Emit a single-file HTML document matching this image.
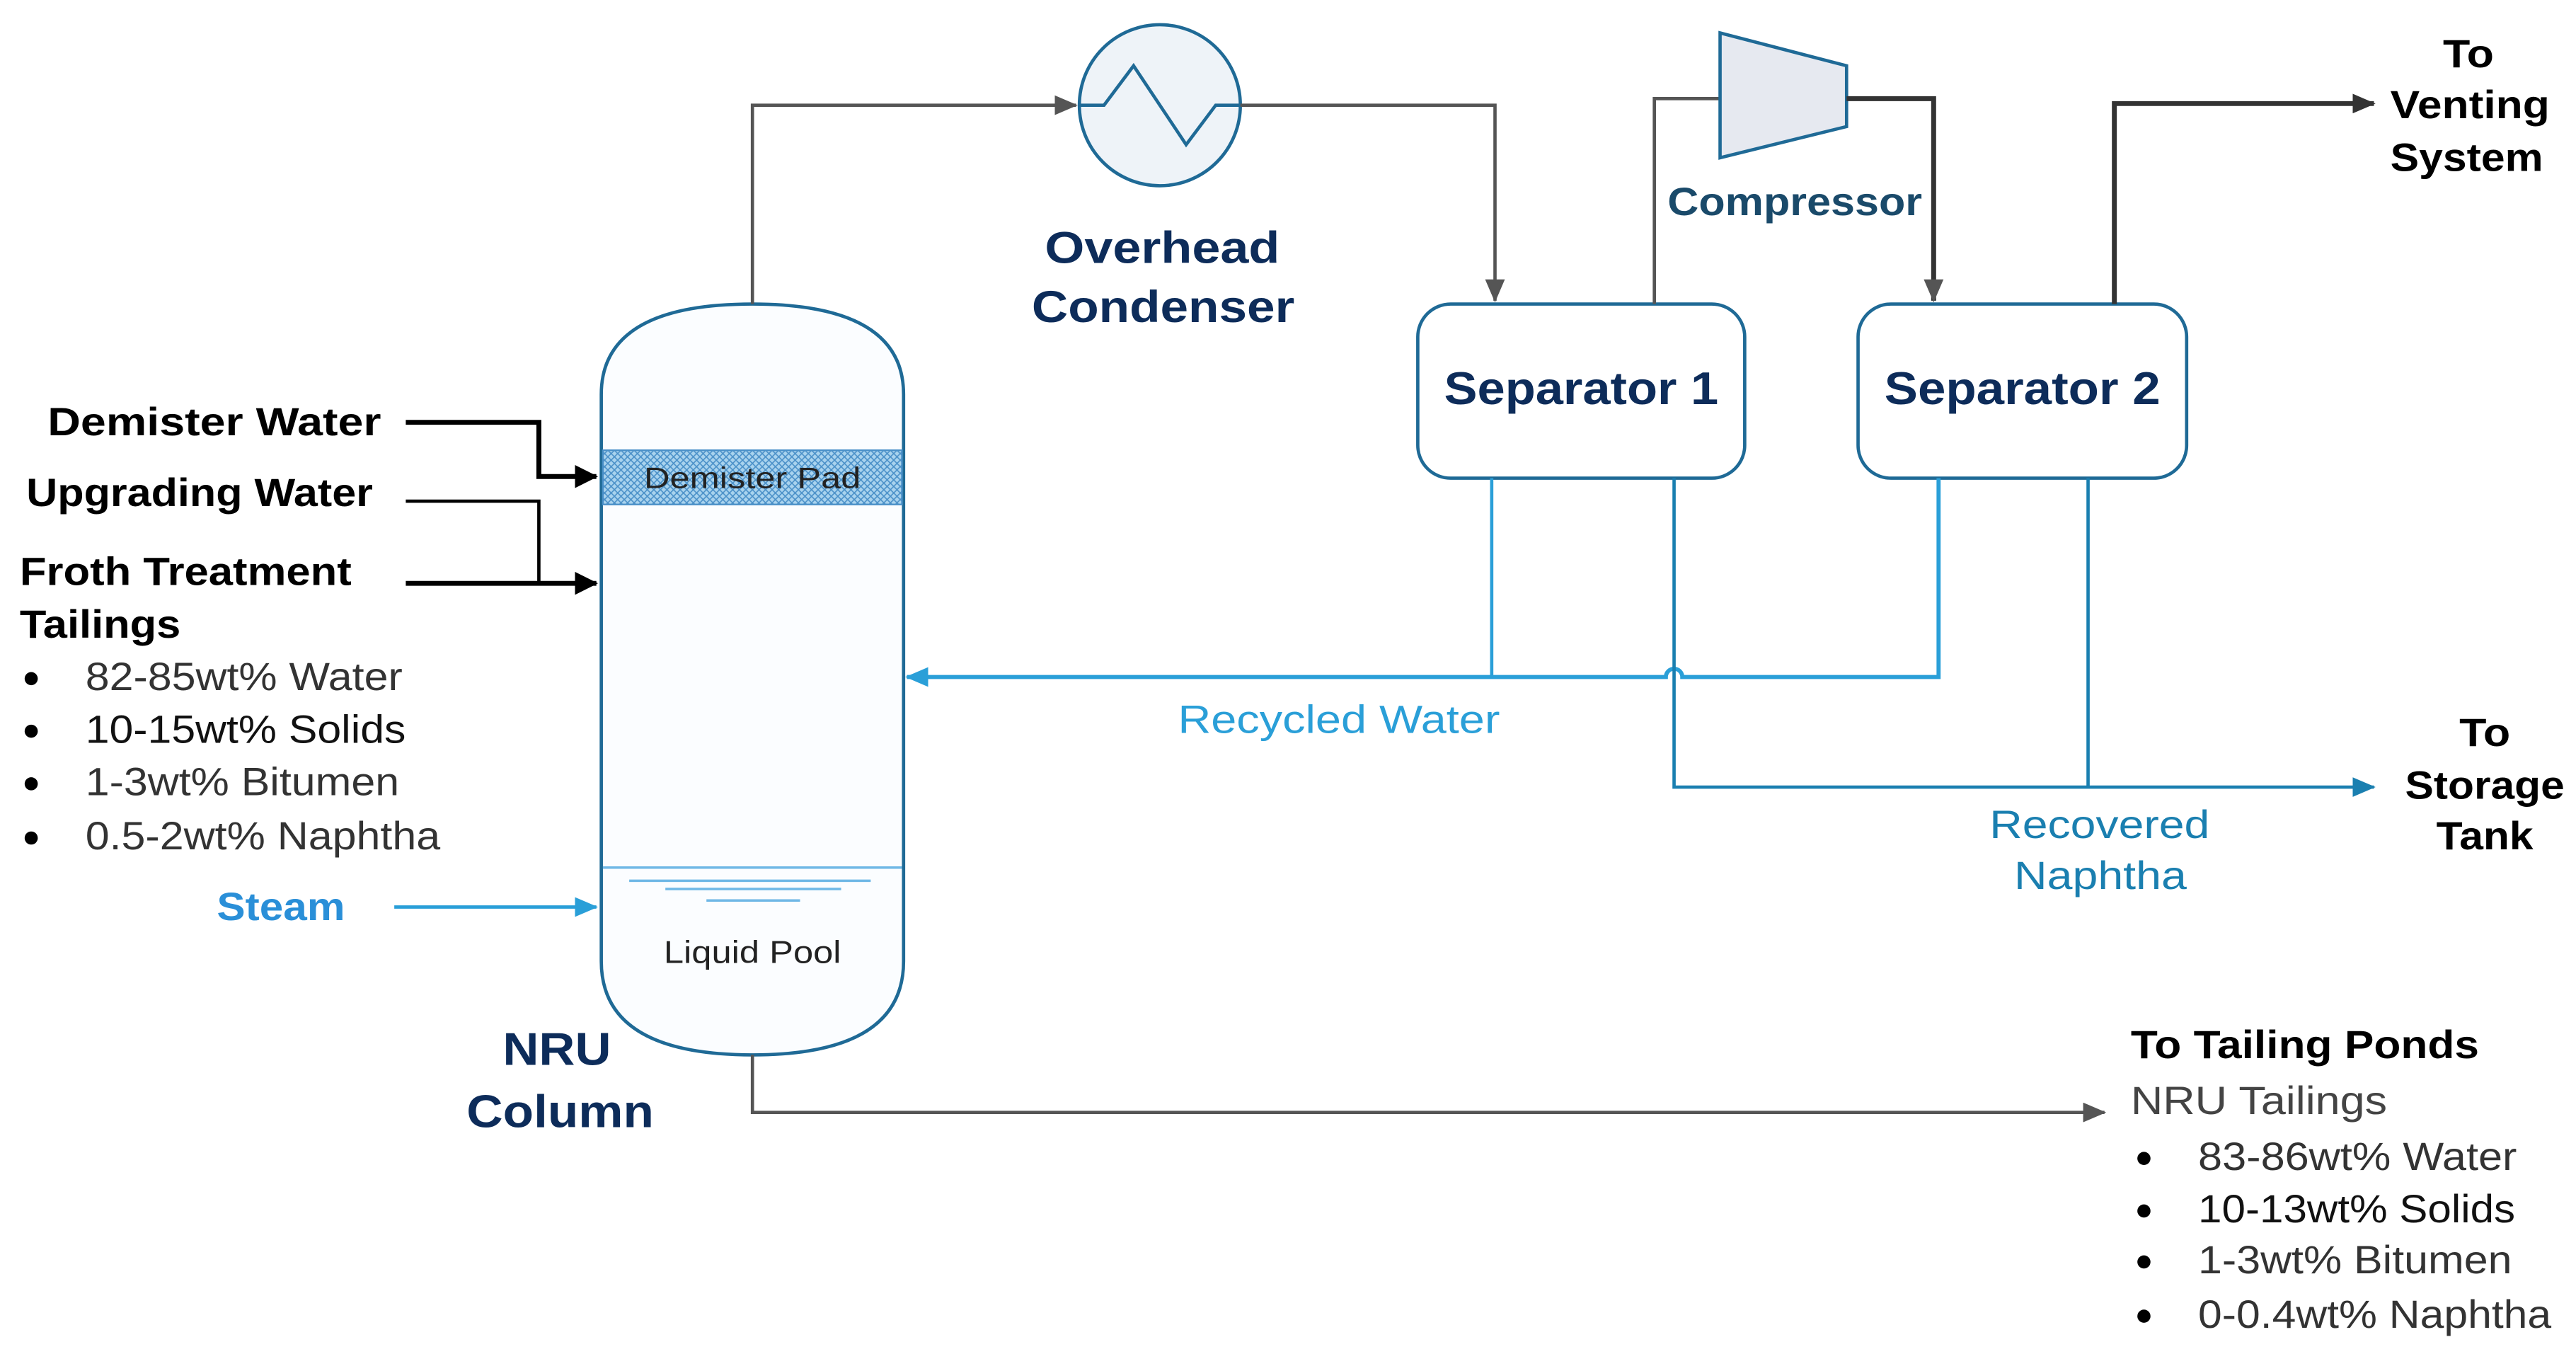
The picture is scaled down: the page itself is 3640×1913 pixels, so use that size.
<!DOCTYPE html>
<html><head><meta charset="utf-8"><style>
html,body{margin:0;padding:0;background:#fff;}
svg{display:block;}
text{font-family:"Liberation Sans",sans-serif;}
</style></head><body>
<svg width="3640" height="1913" viewBox="0 0 1568 824" xmlns="http://www.w3.org/2000/svg">
<defs>
<pattern id="hatch" width="4" height="4" patternUnits="userSpaceOnUse">
<rect width="4" height="4" fill="#a9d3ee"/>
<path d="M0,0 L4,4 M4,0 L0,4" stroke="#4a90c8" stroke-width="0.7"/>
</pattern>
<marker id="ag" markerWidth="14" markerHeight="12" refX="13" refY="6" orient="auto" markerUnits="userSpaceOnUse"><path d="M0,0 L14,6 L0,12z" fill="#555"/></marker>
<marker id="ak" markerWidth="14" markerHeight="14" refX="13" refY="7" orient="auto" markerUnits="userSpaceOnUse"><path d="M0,0 L14,7 L0,14z" fill="#000"/></marker>
<marker id="ab" markerWidth="14" markerHeight="12" refX="13" refY="6" orient="auto" markerUnits="userSpaceOnUse"><path d="M0,0 L14,6 L0,12z" fill="#2a9fd8"/></marker>
<marker id="an" markerWidth="14" markerHeight="12" refX="13" refY="6" orient="auto" markerUnits="userSpaceOnUse"><path d="M0,0 L14,6 L0,12z" fill="#1a7fb0"/></marker>
<marker id="ad" markerWidth="14" markerHeight="12" refX="13" refY="6" orient="auto" markerUnits="userSpaceOnUse"><path d="M0,0 L14,6 L0,12z" fill="#333"/></marker>
</defs>

<path d="M366,240 Q366,185 458,185 Q550,185 550,240 L550,585 Q550,642 458,642 Q366,642 366,585 Z" fill="#fbfdff" stroke="#1f6a96" stroke-width="2"/>
<rect x="367" y="274" width="182" height="33" fill="url(#hatch)" stroke="#4a90c8" stroke-width="1"/>
<text x="392" y="297" font-size="18" textLength="132" lengthAdjust="spacingAndGlyphs" fill="#222">Demister Pad</text>
<line x1="367" y1="528" x2="549" y2="528" stroke="#6fb8e6" stroke-width="1.5"/>
<line x1="383" y1="536" x2="530" y2="536" stroke="#6fb8e6" stroke-width="1.5"/>
<line x1="405" y1="541" x2="512" y2="541" stroke="#6fb8e6" stroke-width="1.5"/>
<line x1="430" y1="548" x2="487" y2="548" stroke="#6fb8e6" stroke-width="1.5"/>
<text x="404" y="586" font-size="19" textLength="108" lengthAdjust="spacingAndGlyphs" fill="#222">Liquid Pool</text>
<text x="306" y="648" font-size="28" font-weight="bold" textLength="66" lengthAdjust="spacingAndGlyphs" fill="#0d2c5a">NRU</text>
<text x="284" y="686" font-size="28" font-weight="bold" textLength="114" lengthAdjust="spacingAndGlyphs" fill="#0d2c5a">Column</text>

<polyline points="458,185 458,64 655,64" fill="none" stroke="#555" stroke-width="2" marker-end="url(#ag)"/>
<circle cx="706" cy="64" r="49" fill="#eef3f8" stroke="#1f6a96" stroke-width="2"/>
<polyline points="657,64 672,64 690,40 722,88 740,64 755,64" fill="none" stroke="#1f6a96" stroke-width="2"/>
<polyline points="755,64 910,64 910,183" fill="none" stroke="#555" stroke-width="2" marker-end="url(#ag)"/>
<text x="636" y="160" font-size="27" font-weight="bold" textLength="143" lengthAdjust="spacingAndGlyphs" fill="#0d2c5a">Overhead</text>
<text x="628" y="196" font-size="27" font-weight="bold" textLength="160" lengthAdjust="spacingAndGlyphs" fill="#0d2c5a">Condenser</text>

<rect x="863" y="185" width="199" height="106" rx="20" fill="#fff" stroke="#1f6a96" stroke-width="2"/>
<text x="879" y="246" font-size="28" font-weight="bold" textLength="167" lengthAdjust="spacingAndGlyphs" fill="#0d2c5a">Separator 1</text>
<rect x="1131" y="185" width="200" height="106" rx="20" fill="#fff" stroke="#1f6a96" stroke-width="2"/>
<text x="1147" y="246" font-size="28" font-weight="bold" textLength="168" lengthAdjust="spacingAndGlyphs" fill="#0d2c5a">Separator 2</text>

<polyline points="1007,185 1007,60 1047,60" fill="none" stroke="#555" stroke-width="2"/>
<polygon points="1047,20 1124,40 1124,77 1047,96" fill="#e6e9f0" stroke="#1f6a96" stroke-width="2"/>
<polyline points="1124,60 1177,60 1177,183" fill="none" stroke="#333" stroke-width="3" marker-end="url(#ag)"/>
<text x="1015" y="131" font-size="24" font-weight="bold" textLength="155" lengthAdjust="spacingAndGlyphs" fill="#1a4a6a">Compressor</text>

<polyline points="1287,185 1287,63 1445,63" fill="none" stroke="#333" stroke-width="3" marker-end="url(#ad)"/>
<text x="1487" y="41" font-size="24" font-weight="bold" textLength="31" lengthAdjust="spacingAndGlyphs" fill="#000">To</text>
<text x="1455" y="72" font-size="24" font-weight="bold" textLength="97" lengthAdjust="spacingAndGlyphs" fill="#000">Venting</text>
<text x="1455" y="104" font-size="24" font-weight="bold" textLength="93" lengthAdjust="spacingAndGlyphs" fill="#000">System</text>

<line x1="908" y1="291" x2="908" y2="412" stroke="#2a9fd8" stroke-width="2"/>
<path d="M1180,291 L1180,412 L1024,412 A5,5 0 0 0 1014,412 L552,412" fill="none" stroke="#2a9fd8" stroke-width="2.5" marker-end="url(#ab)"/>
<text x="717" y="446" font-size="24" textLength="196" lengthAdjust="spacingAndGlyphs" fill="#2a9fd8">Recycled Water</text>

<polyline points="1019,291 1019,479 1445,479" fill="none" stroke="#1a7fb0" stroke-width="2" marker-end="url(#an)"/>
<line x1="1271" y1="291" x2="1271" y2="479" stroke="#1a7fb0" stroke-width="2"/>
<text x="1211" y="510" font-size="24" textLength="134" lengthAdjust="spacingAndGlyphs" fill="#1a7fb0">Recovered</text>
<text x="1226" y="541" font-size="24" textLength="105" lengthAdjust="spacingAndGlyphs" fill="#1a7fb0">Naphtha</text>
<text x="1497" y="454" font-size="24" font-weight="bold" textLength="31" lengthAdjust="spacingAndGlyphs" fill="#000">To</text>
<text x="1464" y="486" font-size="24" font-weight="bold" textLength="97" lengthAdjust="spacingAndGlyphs" fill="#000">Storage</text>
<text x="1483" y="517" font-size="24" font-weight="bold" textLength="59" lengthAdjust="spacingAndGlyphs" fill="#000">Tank</text>

<polyline points="458,642 458,677 1281,677" fill="none" stroke="#555" stroke-width="2" marker-end="url(#ag)"/>
<text x="1297" y="644" font-size="24" font-weight="bold" textLength="212" lengthAdjust="spacingAndGlyphs" fill="#000">To Tailing Ponds</text>
<text x="1297" y="678" font-size="24" textLength="156" lengthAdjust="spacingAndGlyphs" fill="#444">NRU Tailings</text>
<g font-size="24" fill="#333">
<circle cx="1305" cy="705" r="4" fill="#000"/><text x="1338" y="712" textLength="194" lengthAdjust="spacingAndGlyphs">83-86wt% Water</text>
<circle cx="1305" cy="737" r="4" fill="#000"/><text x="1338" y="744" textLength="193" lengthAdjust="spacingAndGlyphs" fill="#111">10-13wt% Solids</text>
<circle cx="1305" cy="768" r="4" fill="#000"/><text x="1338" y="775" textLength="191" lengthAdjust="spacingAndGlyphs">1-3wt% Bitumen</text>
<circle cx="1305" cy="801" r="4" fill="#000"/><text x="1338" y="808" textLength="215" lengthAdjust="spacingAndGlyphs">0-0.4wt% Naphtha</text>
</g>

<text x="29" y="265" font-size="24" font-weight="bold" textLength="203" lengthAdjust="spacingAndGlyphs" fill="#000">Demister Water</text>
<text x="16" y="308" font-size="24" font-weight="bold" textLength="211" lengthAdjust="spacingAndGlyphs" fill="#000">Upgrading Water</text>
<text x="12" y="356" font-size="24" font-weight="bold" textLength="202" lengthAdjust="spacingAndGlyphs" fill="#000">Froth Treatment</text>
<text x="12" y="388" font-size="24" font-weight="bold" textLength="98" lengthAdjust="spacingAndGlyphs" fill="#000">Tailings</text>
<polyline points="247,257 328,257 328,290 363,290" fill="none" stroke="#000" stroke-width="3" marker-end="url(#ak)"/>
<polyline points="247,305 328,305 328,355" fill="none" stroke="#000" stroke-width="2"/>
<polyline points="247,355 363,355" fill="none" stroke="#000" stroke-width="3" marker-end="url(#ak)"/>
<g font-size="24" fill="#333">
<circle cx="19" cy="413" r="4" fill="#000"/><text x="52" y="420" textLength="193" lengthAdjust="spacingAndGlyphs">82-85wt% Water</text>
<circle cx="19" cy="445" r="4" fill="#000"/><text x="52" y="452" textLength="195" lengthAdjust="spacingAndGlyphs" fill="#111">10-15wt% Solids</text>
<circle cx="19" cy="477" r="4" fill="#000"/><text x="52" y="484" textLength="191" lengthAdjust="spacingAndGlyphs">1-3wt% Bitumen</text>
<circle cx="19" cy="510" r="4" fill="#000"/><text x="52" y="517" textLength="216" lengthAdjust="spacingAndGlyphs">0.5-2wt% Naphtha</text>
</g>
<text x="132" y="560" font-size="24" font-weight="bold" textLength="78" lengthAdjust="spacingAndGlyphs" fill="#2a8fd8">Steam</text>
<line x1="240" y1="552" x2="363" y2="552" stroke="#2a9fd8" stroke-width="2" marker-end="url(#ab)"/>
</svg>
</body></html>
